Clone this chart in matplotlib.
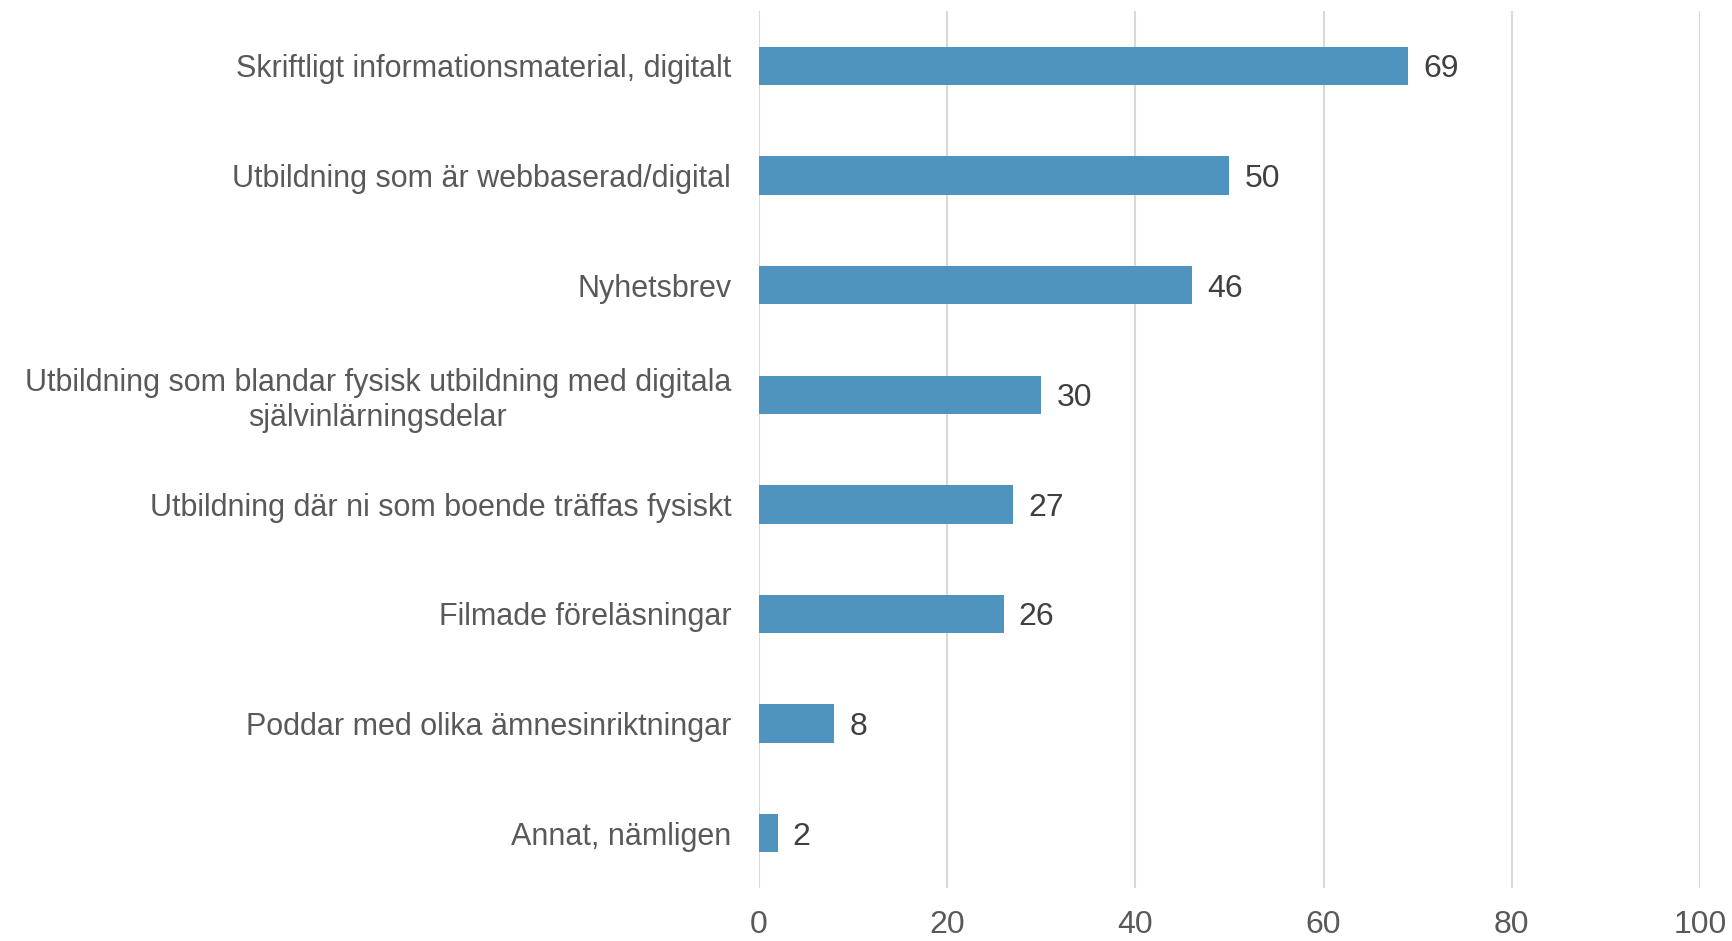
import matplotlib
matplotlib.use('Agg')
import matplotlib.pyplot as plt
from matplotlib import font_manager

# Data
categories = [
    'Skriftligt informationsmaterial, digitalt',
    'Utbildning som är webbaserad/digital',
    'Nyhetsbrev',
    'Utbildning som blandar fysisk utbildning med digitala\nsjälvinlärningsdelar',
    'Utbildning där ni som boende träffas fysiskt',
    'Filmade föreläsningar',
    'Poddar med olika ämnesinriktningar',
    'Annat, nämligen',
]
values = [69, 50, 46, 30, 27, 26, 8, 2]
xticks = [0, 20, 40, 60, 80, 100]

names = {f.name for f in font_manager.fontManager.ttflist}
font = 'Liberation Sans Narrow' if 'Liberation Sans Narrow' in names else 'Liberation Sans'
plt.rcParams['font.family'] = [font, 'DejaVu Sans']

fig = plt.figure(figsize=(17.32, 9.41), dpi=100)
ax = fig.add_axes([0.4382, 0.0563, 0.5433, 0.932])

ypos = list(range(len(categories)))
ax.barh(ypos, values, height=0.35, color='#4E94BE', zorder=3)
for y, v in zip(ypos, values):
    ax.text(v + 1.6, y, str(v), va='center_baseline', ha='left', fontsize=23, color='#404040')

ax.set_yticks(ypos)
ax.set_yticklabels(categories, fontsize=22, color='#595959')
for lab in ax.get_yticklabels():
    lab.set_multialignment('center')
ax.tick_params(axis='y', length=0, pad=20)
ax.set_ylim(len(categories) - 0.5, -0.5)

ax.set_xlim(0, 100)
ax.set_xticks(xticks)
ax.set_xticklabels([str(t) for t in xticks], fontsize=23, color='#595959')
ax.tick_params(axis='x', length=0, pad=16)
ax.grid(axis='x', color='#D9D9D9', linewidth=1.5, zorder=0)

for s in ax.spines.values():
    s.set_visible(False)

fig.savefig('out.png', dpi=100)
